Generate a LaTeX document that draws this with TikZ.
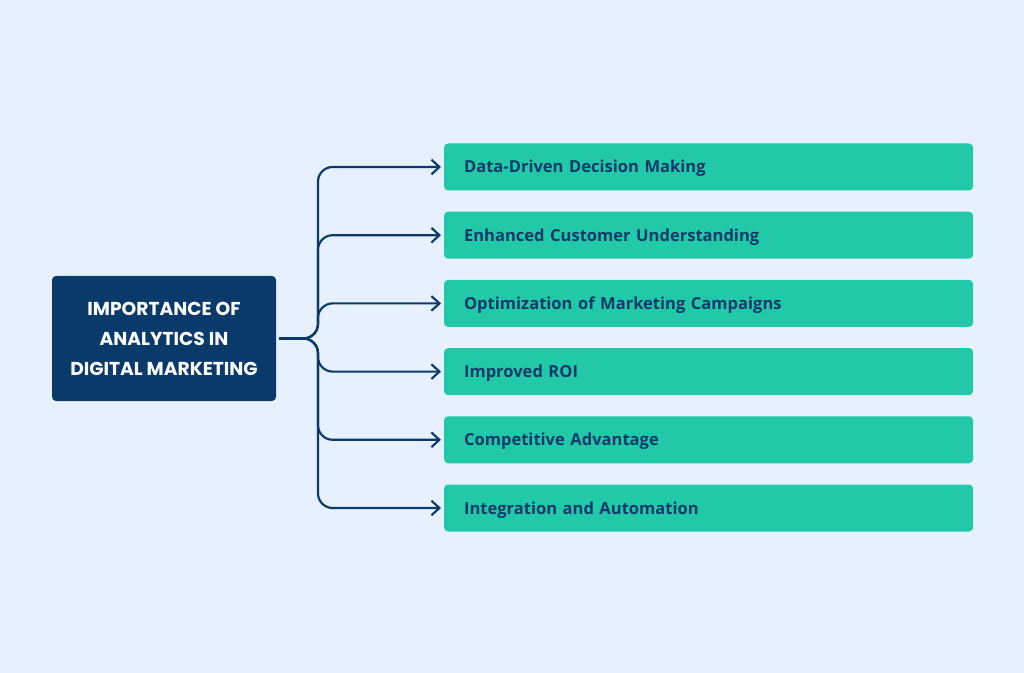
\documentclass[tikz,border=0pt]{standalone}
\usepackage{fontspec}
\setmainfont{Open Sans}
\newfontfamily\titelschrift{Poppins}
\usetikzlibrary{arrows.meta,positioning}
\definecolor{hinter}{HTML}{E6F0FE}
\definecolor{marine}{HTML}{0A3A6A}
\definecolor{mint}{HTML}{22C9A8}
\tikzset{
  kopf/.style={fill=marine,text=white,rounded corners=3pt,align=center,
    minimum width=168pt,minimum height=93.75pt,inner sep=0pt,
    font=\titelschrift\bfseries\fontsize{14}{22.5}\selectfont},
  punkt/.style={fill=mint,text=marine,rounded corners=3pt,anchor=west,
    text width=366.75pt,inner xsep=15pt,inner ysep=0pt,minimum height=35.25pt,
    text height=9pt,text depth=0pt,
    align=left,font=\bfseries\fontsize{12.4}{15}\selectfont}
}
\begin{document}
\begin{tikzpicture}[x=0.75pt,y=-0.75pt,>={Straight Barb[length=6pt,width=11pt]},line width=1.6pt]
\def\h{68.2}
\def\pfeil#1{
\draw[->,marine,rounded corners=11pt,shorten <=1.5pt,shorten >=1.5pt] (wurzel.east) -- (schiene |- wurzel.east) -- (schiene |- #1.west) -- (#1.west);
}
\fill[hinter] (0,0) rectangle (1024,673);
\coordinate (schiene) at (318,0);
\node[kopf] (wurzel) at (164,338.5) {IMPORTANCE OF\\ANALYTICS IN\\DIGITAL MARKETING};
\node[punkt] (daten) at (443,167) {Data-Driven Decision Making};
\node[punkt] (kunde) at (443,{167+\h}) {Enhanced Customer Understanding};
\node[punkt] (kampagne) at (443,{167+2*\h}) {Optimization of Marketing Campaigns};
\node[punkt] (roi) at (443,{167+3*\h}) {Improved ROI};
\node[punkt] (vorteil) at (443,{167+4*\h}) {Competitive Advantage};
\node[punkt] (auto) at (443,{167+5*\h}) {Integration and Automation};
\pfeil{daten}
\pfeil{kunde}
\pfeil{kampagne}
\pfeil{roi}
\pfeil{vorteil}
\pfeil{auto}
\end{tikzpicture}
\end{document}
